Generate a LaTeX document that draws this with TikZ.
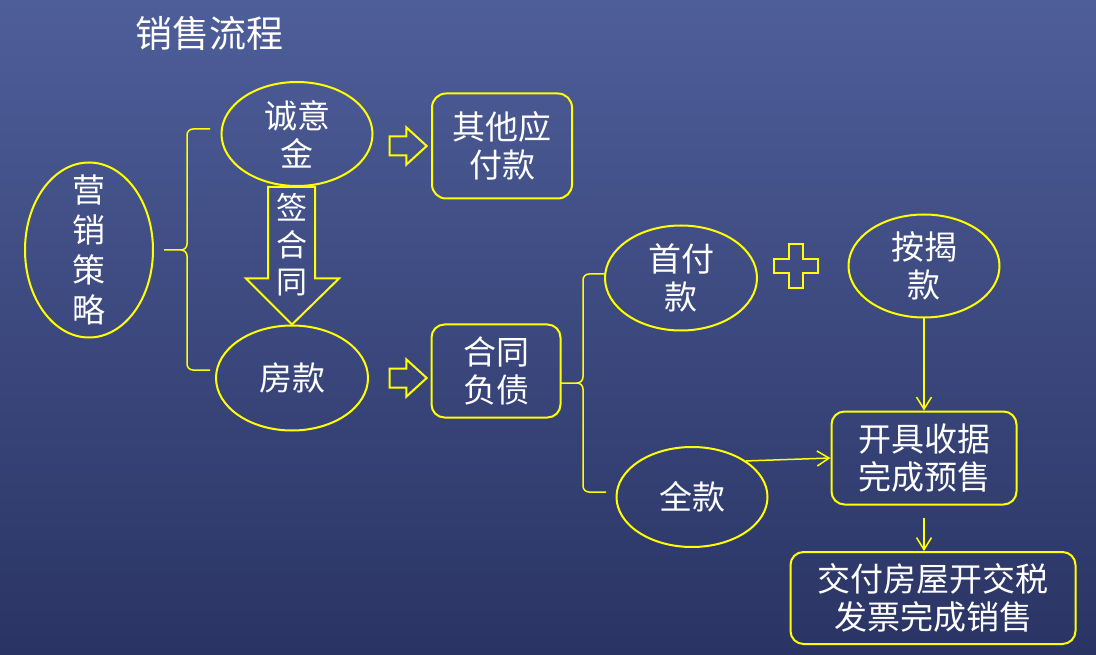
\documentclass[tikz,border=0pt]{standalone}
\usepackage{fontspec}
\newfontfamily\cjk{Noto Sans CJK SC}
\usetikzlibrary{shapes.geometric,shapes.arrows,arrows.meta,positioning}
\definecolor{bgtop}{RGB}{78,94,153}
\definecolor{bgbot}{RGB}{42,52,100}
\definecolor{lineyellow}{RGB}{255,255,0}

\begin{document}
\begin{tikzpicture}[
     x = 1pt,
     y = -1pt,
     >= {Straight Barb[length=12pt,width=15pt]}
    ]
    \tikzstyle{txt}=[text=white, align=center, inner sep=0pt, font=\cjk\fontsize{33}{38}\selectfont]
    \tikzstyle{oval}=[txt, ellipse, draw=lineyellow, line width=2pt, minimum width=151pt, minimum height=104pt, inner sep=-20pt]
    \tikzstyle{box}=[txt, rectangle, rounded corners=13pt, draw=lineyellow, line width=2pt]
    \tikzstyle{hollow}=[single arrow, draw=lineyellow, line width=2pt, inner xsep=0pt, inner ysep=8.5pt, single arrow head extend=9pt, single arrow tip angle=85, minimum height=37pt]
    \tikzstyle{outline}=[draw=lineyellow, line width=2pt, line join=miter]
    \tikzstyle{bracket}=[draw=lineyellow, line width=1.5pt, rounded corners=6pt]
    \tikzstyle{link}=[->, draw=lineyellow, line width=1.5pt]

    % background
    \shade[top color=bgtop, bottom color=bgbot] (0,0) rectangle (1096,655);
    \useasboundingbox (0,0) rectangle (1096,655);

    \node[txt, font=\cjk\fontsize{37}{44}\selectfont] (title) at (209,33) {销售流程};

    \node[oval, minimum width=128pt, minimum height=175pt, font=\cjk\fontsize{33}{40}\selectfont] (yingxiao) at (89,250) {营\\销\\策\\略};
    \node[oval] (chengyi) at (297,134) {诚意\\金};
    \node[box, minimum width=140pt, minimum height=105pt, rounded corners=14pt] (qita) at (502,146) {其他应\\付款};
    \node[oval, minimum width=152pt, minimum height=105pt] (fangkuan) at (292,378) {房款};
    \node[box, minimum width=129pt, minimum height=93pt] (hetong) at (496,371) {合同\\负债};

    \node[oval, minimum width=152pt, minimum height=105pt] (shoufu) at (681,278) {首付\\款};
    \node[oval, minimum height=103pt] (anjie) at (924,266) {按揭\\款};
    \node[oval, minimum height=100pt] (quankuan) at (692,497) {全款};
    \node[box, minimum width=185pt, minimum height=93pt, below of=anjie, node distance=192pt] (shouju) {开具收据\\完成预售};
    \node[box, minimum width=285pt, minimum height=92pt] (jiaofu) at (933,598) {交付房屋开交税\\发票完成销售};

    % hollow arrows
    \node[hollow] (toqita) at (403,146) {};
    \node[hollow] (tohetong) at (403,378) {};

    % sign the contract
    \coordinate (signtop) at (fangkuan.north |- chengyi.south);
    \draw[outline] ([xshift=-24pt]signtop) -- ([xshift=23pt]signtop)
      -- ([xshift=23pt,yshift=46pt]fangkuan.north) -- ([xshift=47pt,yshift=46pt]fangkuan.north)
      -- (fangkuan.north)
      -- ([xshift=-46pt,yshift=46pt]fangkuan.north) -- ([xshift=-24pt,yshift=46pt]fangkuan.north) -- cycle;
    \node[txt, font=\cjk\fontsize{31}{37}\selectfont] (sign) at (292,245) {签\\合\\同};

    % plus
    \draw[outline, shift={(796,266)}] (-7,-22) -- (7,-22) -- (7,-7) -- (22,-7) -- (22,7) -- (7,7)
      -- (7,22) -- (-7,22) -- (-7,7) -- (-22,7) -- (-22,-7) -- (-7,-7) -- cycle;

    % brackets
    \draw[bracket] (164,250) -- (187,250) |- (210,129)
                   (164,250) -- (187,250) |- (210,370);
    \draw[bracket] (560,383) -- (583,383) |- (605,274)
                   (560,383) -- (583,383) |- (606,492);

    \draw[link] (anjie) -- (shouju);
    \draw[link] (quankuan.north east) -- (shouju.west);
    \draw[link, shorten <=12pt] (shouju.south) -- (shouju.south |- jiaofu.north);
   \end{tikzpicture}
\end{document}
